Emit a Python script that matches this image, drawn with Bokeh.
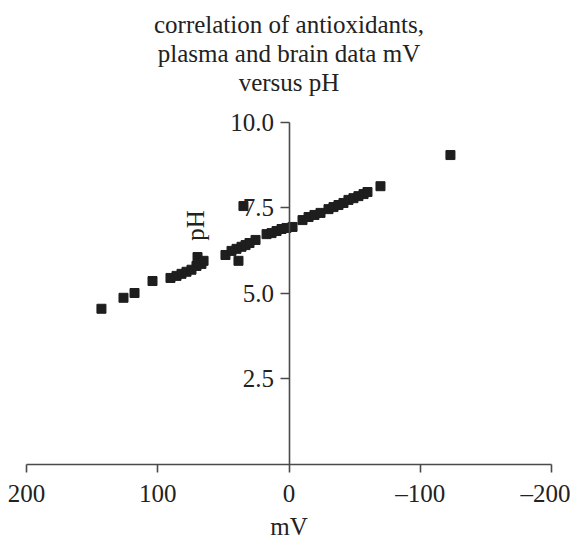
import math
from bokeh.plotting import figure
from bokeh.models import Range1d, FixedTicker, Label, Title, ColumnDataSource
from bokeh.embed import file_html
from bokeh.resources import INLINE

# ---- data ----
mv = [142.9, 126.1, 117.7, 104.0, 90.3, 85.7, 81.9, 78.1, 74.3, 70.5, 69.0, 69.7,
      66.7, 65.1, 48.4, 38.5, 43.8, 40.0, 36.2, 33.1, 30.1, 25.5, 34.7, 17.1, 13.3,
      9.5, 5.7, 1.9, -2.7, -10.3, -14.9, -19.4, -24.0, -30.1, -33.9, -37.7, -41.5,
      -45.3, -49.1, -52.9, -56.8, -59.8, -69.7, -123.0]
ph = [4.55, 4.87, 5.01, 5.36, 5.45, 5.51, 5.57, 5.63, 5.69, 5.80, 5.92, 6.06,
      5.86, 5.95, 6.12, 5.95, 6.24, 6.30, 6.36, 6.41, 6.47, 6.56, 7.55, 6.73, 6.76,
      6.82, 6.88, 6.91, 6.94, 7.14, 7.23, 7.29, 7.35, 7.46, 7.52, 7.58, 7.64,
      7.73, 7.78, 7.84, 7.90, 7.96, 8.13, 9.04]

x_ticks = [200, 100, 0, -100, -200]
x_tick_labels = ["200", "100", "0", "\u2013100", "\u2013200"]
y_ticks = [2.5, 5.0, 7.5, 10.0]
y_tick_labels = ["2.5", "5.0", "7.5", "10.0"]
title_lines = ["correlation of antioxidants,", "plasma and brain data mV", "versus pH"]
x_label = "mV"
y_label = "pH"

FONT = "Liberation Serif"
FS = "25px"
AXC = "#4a4a4a"
TXT = "#222222"

p = figure(width=570, height=542, x_range=Range1d(200, -200), y_range=Range1d(0, 10.4),
           output_backend="svg", toolbar_location=None, title=None,
           min_border_left=26, min_border_right=19, min_border_top=108,
           min_border_bottom=77)
p.outline_line_color = None
p.grid.visible = False
p.background_fill_color = "white"
p.border_fill_color = "white"

# blank spacer between the title block and the plot frame
p.add_layout(Title(text=" ", text_font=FONT, text_font_size="10px", standoff=0), "above")
# titles (added innermost first)
for line in reversed(title_lines):
    p.add_layout(Title(text=line, align="center", offset=-12, text_font=FONT,
                       text_font_size=FS, text_font_style="normal", text_color=TXT,
                       standoff=0), "above")

src = ColumnDataSource(dict(mv=mv, ph=ph))
p.scatter("mv", "ph", source=src, marker="square", size=9, color="#1e1e1e")

# x axis
xa = p.xaxis[0]
xa.ticker = FixedTicker(ticks=x_ticks)
xa.major_label_overrides = {t: l for t, l in zip(x_ticks, x_tick_labels)}
xa.major_tick_in = 0
xa.major_tick_out = 8
xa.minor_tick_out = 0
xa.minor_tick_in = 0
xa.axis_line_color = AXC
xa.axis_line_width = 1.6
xa.major_tick_line_color = AXC
xa.major_tick_line_width = 1.6
xa.major_label_text_font = FONT
xa.major_label_text_font_size = FS
xa.major_label_text_color = TXT
xa.major_label_standoff = 7
xa.axis_label = x_label
xa.axis_label_text_font = FONT
xa.axis_label_text_font_size = FS
xa.axis_label_text_font_style = "normal"
xa.axis_label_text_color = TXT
xa.axis_label_standoff = 3

# y axis through x = 0
ya = p.yaxis[0]
ya.fixed_location = 0
ya.bounds = (0, 10)
ya.ticker = FixedTicker(ticks=y_ticks)
ya.major_label_overrides = {t: l for t, l in zip(y_ticks, y_tick_labels)}
ya.major_tick_in = 0
ya.major_tick_out = 9
ya.minor_tick_out = 0
ya.minor_tick_in = 0
ya.axis_line_color = AXC
ya.axis_line_width = 1.6
ya.major_tick_line_color = AXC
ya.major_tick_line_width = 1.6
ya.major_label_text_font = FONT
ya.major_label_text_font_size = FS
ya.major_label_text_color = TXT
ya.major_label_standoff = 6

p.add_layout(Label(x=71.5, y=6.98, text=y_label, angle=math.pi / 2, angle_units="rad",
                   text_align="center", text_baseline="middle", text_font=FONT,
                   text_font_size=FS, text_color=TXT))

open("out.html", "w").write(file_html(p, INLINE))
